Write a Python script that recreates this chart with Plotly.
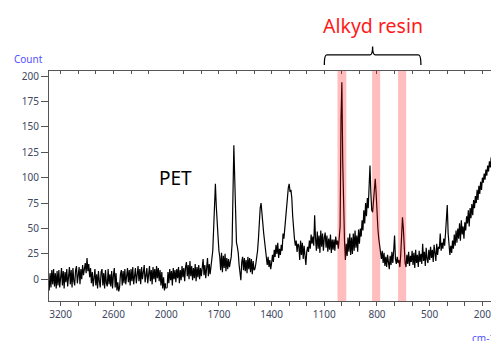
import plotly.graph_objects as go

# ---------------- data ----------------
# Wavenumber grid (cm-1): compressed section 3330..2000, detailed section 1995..150
hi_wn = list(range(3330, 1999, -10))
lo_wn = list(range(1995, 149, -5))

hi_counts = [
    -11, 6, -8, 9, -5, 10, -7, 6, -9, 8,
    -6, 9, -8, 5, 11, -6, 8, -9, 7, -3,
    10, -7, 6, 12, -5, 9, -8, 11, -2, -6,
    9, 13, -4, 8, 12, -5, 10, 0, 14, 4,
    12, 16, 6, 21, 8, 15, 2, 11, -4, 7,
    -7, 6, 10, -6, 5, -9, 8, -2, -8, 7,
    10, -6, 6, -9, 9, -4, -7, 10, -5, 5,
    -7, 8, -9, 4, 11, -8, 6, -11, -3, -12,
    -8, 5, 9, -6, 8, -4, 10, -5, 6, 11,
    -3, 9, -6, 10, -2, 12, -5, 8, 11, -4,
    9, 13, -2, 10, -5, 12, 0, 8, 14, -3,
    8, 11, -4, 10, 13, -2, 9, -5, 12, 0,
    10, -3, 13, 1, 11, -2, 9, -6, 7, -9, 2, -11, -4, -9,
]

lo_counts = [
    -8, 7, -4, 10, -1, 8, -6, 11, 0, 9,
    -3, 10, 1, 12, -4, 9, -1, 13, 2, 11,
    -2, 12, 17, 3, 14, 0, 18, 3, 13, -1,
    11, 1, 15, -2, 12, 2, 14, 0, 11, 3,
    15, 20, 4, 14, 1, 12, 21, 3, 15, 5,
    12, 16, 28, 50, 80, 94, 72, 48, 42, 28,
    22, 9, 26, 7, 23, 11, 25, 8, 21, 10,
    20, 12, 18, 22, 35, 75, 132, 100, 58, 36,
    32, 26, 14, 8, -1, 17, 22, 9, 21, 8,
    19, 6, 22, 10, 21, 7, 20, 5, 18, 9,
    10, 15, 20, 28, 40, 58, 70, 75, 68, 55,
    45, 37, 28, 20, 14, 22, 12, 19, 10, 16,
    24, 17, 29, 22, 34, 25, 36, 21, 30, 24,
    34, 28, 45, 40, 52, 62, 72, 80, 90, 94,
    86, 88, 80, 62, 48, 40, 33, 38, 27, 35,
    33, 19, 38, 24, 36, 20, 33, 17, 14, 27,
    32, 27, 38, 30, 44, 35, 42, 33, 63, 40,
    28, 47, 30, 43, 26, 48, 32, 45, 28, 41,
    46, 31, 43, 27, 40, 29, 44, 26, 39, 29,
    39, 28, 42, 34, 38, 30, 44, 52, 157, 194,
    115, 68, 38, 19, 35, 23, 41, 27, 45, 24,
    41, 25, 45, 28, 48, 31, 43, 27, 49, 35,
    50, 42, 58, 48, 68, 55, 75, 62, 80, 70,
    90, 112, 85, 68, 66, 78, 92, 99, 85, 62,
    50, 40, 32, 28, 20, 28, 16, 26, 13, 22,
    12, 24, 15, 10, 23, 14, 27, 16, 28, 43,
    20, 15, 22, 16, 19, 12, 24, 40, 61, 50,
    30, 16, 12, 24, 15, 27, 13, 23, 17, 28,
    14, 26, 11, 29, 16, 24, 12, 28, 17, 25,
    15, 35, 18, 27, 13, 31, 20, 16, 29, 19,
    32, 21, 29, 17, 34, 22, 18, 35, 24, 32,
    30, 45, 28, 36, 30, 40, 33, 45, 58, 73,
    45, 28, 24, 33, 26, 38, 30, 44, 33, 48,
    36, 50, 40, 55, 38, 58, 44, 52, 40, 56,
    48, 62, 55, 68, 52, 70, 60, 74, 63, 78,
    70, 82, 75, 88, 78, 92, 84, 96, 88, 100,
    95, 104, 98, 108, 102, 112, 106, 116, 110, 120,
]

hi_ticks = [3200, 3000, 2800, 2600, 2400, 2200]
hi_labels = ["3200", "", "", "2600", "", ""]
lo_ticks = list(range(2000, 199, -100))
lo_labels = [str(t) if t in (2000, 1700, 1400, 1100, 800, 500, 200) else "" for t in lo_ticks]
y_ticks = [0, 25, 50, 75, 100, 125, 150, 175, 200]

alkyd_bands = [(1025, 975), (828, 782), (680, 634)]
brace_span = (1100, 550)

# ---------------- figure ----------------
AX = "#555555"
TXT = "#3e4860"
FONT = "Noto Sans"
split = 0.2652

fig = go.Figure()
fig.add_trace(go.Scatter(x=hi_wn, y=hi_counts, mode="lines",
                         line=dict(color="black", width=1.2), xaxis="x", yaxis="y",
                         showlegend=False, hoverinfo="skip"))
fig.add_trace(go.Scatter(x=[hi_wn[-1]] + lo_wn, y=[hi_counts[-1]] + lo_counts, mode="lines",
                         line=dict(color="black", width=1.2), xaxis="x2", yaxis="y",
                         showlegend=False, hoverinfo="skip"))
# empty traces so the top (inside-tick) axes are drawn
fig.add_trace(go.Scatter(x=[None], y=[None], xaxis="x3", yaxis="y", showlegend=False, hoverinfo="skip"))
fig.add_trace(go.Scatter(x=[None], y=[None], xaxis="x4", yaxis="y", showlegend=False, hoverinfo="skip"))

common_x = dict(showgrid=False, zeroline=False, showline=True, linecolor=AX, linewidth=1,
                tickcolor=AX, tickfont=dict(family=FONT, size=10, color=TXT))

shapes = []
for a, b in alkyd_bands:
    shapes.append(dict(type="rect", xref="x2", yref="paper", x0=a, x1=b, y0=0, y1=1,
                       fillcolor="red", opacity=0.26, line=dict(width=0), layer="above"))

xl, xr = brace_span
xm = (xl + xr) / 2
ye, yb, yt = 1.026, 1.070, 1.106
dx = 14
brace = (f"M {xl},{ye} Q {xl},{yb} {xl-dx},{yb} L {xm+dx},{yb} Q {xm},{yb} {xm},{yt} "
         f"Q {xm},{yb} {xm-dx},{yb} L {xr+dx},{yb} Q {xr},{yb} {xr},{ye}")
shapes.append(dict(type="path", xref="x2", yref="paper", path=brace,
                   line=dict(color="black", width=1.3)))

fig.update_layout(
    width=491, height=341,
    margin=dict(l=49, r=0, t=71, b=40),
    paper_bgcolor="white", plot_bgcolor="white",
    showlegend=False,
    xaxis=dict(domain=[0, split], range=[3332, 2000], tickvals=hi_ticks, ticktext=hi_labels,
               ticks="outside", ticklen=4, anchor="y", mirror=True, **common_x),
    xaxis2=dict(domain=[split, 1], range=[2000, 151], tickvals=lo_ticks, ticktext=lo_labels,
                ticks="outside", ticklen=4, anchor="y", mirror=True,
                ticklabeloverflow="allow", **common_x),
    xaxis3=dict(overlaying="x", side="top", range=[3332, 2000], tickvals=hi_ticks,
                ticks="inside", ticklen=3, showticklabels=False, anchor="y", **common_x),
    xaxis4=dict(overlaying="x2", side="top", range=[2000, 151], tickvals=lo_ticks,
                ticks="inside", ticklen=3, showticklabels=False, anchor="y", **common_x),
    yaxis=dict(range=[-21.4, 205], tickvals=y_ticks, ticks="outside", ticklen=7,
               showgrid=False, zeroline=False, showline=True, linecolor=AX, linewidth=1,
               tickcolor=AX, tickfont=dict(family=FONT, size=10, color=TXT)),
    shapes=shapes,
    annotations=[
        dict(text="Count", xref="paper", yref="paper", x=-0.083, y=1.052, xanchor="left",
             yanchor="middle", showarrow=False, font=dict(family=FONT, size=10, color="#5050ff")),
        dict(text="cm-1", xref="paper", yref="paper", x=0.953, y=-0.162, xanchor="left",
             yanchor="middle", showarrow=False, font=dict(family=FONT, size=10, color="#5050ff")),
        dict(text="PET", xref="x2", yref="y", x=1946, y=100, showarrow=False,
             xanchor="center", yanchor="middle",
             font=dict(family=FONT, size=19, color="black")),
        dict(text="Alkyd resin", xref="x2", yref="paper", x=xm, y=1.2, showarrow=False,
             xanchor="center", yanchor="middle",
             font=dict(family=FONT, size=19.5, color="#ff1a1a")),
    ],
)

fig.write_html("out.html")
